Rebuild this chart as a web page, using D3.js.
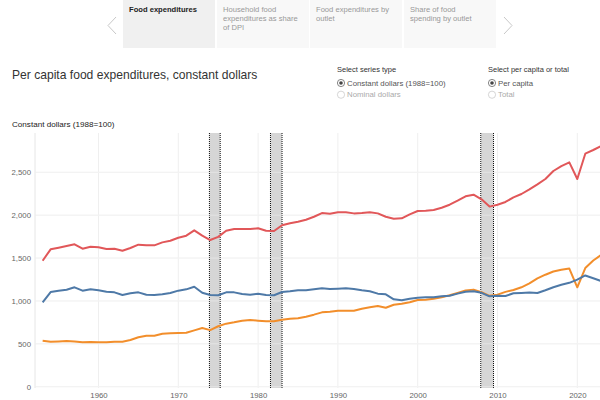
<!DOCTYPE html>
<html>
<head>
<meta charset="utf-8">
<script src="https://cdn.jsdelivr.net/npm/d3@7"></script>
<style>
html,body{margin:0;padding:0;background:#fff;}
svg{display:block;font-family:"Liberation Sans",Arial,sans-serif;}
</style>
</head>
<body>
<svg id="chart" width="600" height="400"></svg>
<script>
const years = d3.range(1953, 2024);
const totalValues = [1469,1602,1621,1641,1660,1609,1632,1625,1606,1609,1586,1617,1656,1648,1648,1683,1702,1737,1761,1823,1761,1710,1747,1819,1839,1839,1839,1847,1819,1815,1882,1905,1924,1947,1982,2025,2017,2033,2033,2021,2025,2033,2021,1982,1959,1963,2010,2049,2052,2060,2087,2122,2169,2220,2239,2185,2100,2122,2154,2208,2247,2301,2360,2422,2515,2573,2616,2422,2717,2760,2807];
const homeValues = [984,1104,1120,1131,1159,1120,1135,1124,1108,1100,1069,1089,1100,1073,1069,1077,1093,1120,1135,1166,1096,1070,1066,1100,1100,1081,1073,1085,1069,1066,1104,1112,1124,1124,1135,1147,1139,1143,1147,1139,1124,1112,1085,1077,1019,1007,1026,1038,1042,1042,1054,1061,1085,1108,1112,1095,1054,1060,1058,1089,1094,1098,1092,1124,1160,1188,1211,1248,1297,1265,1232];
const awayValues = [536,525,528,532,528,517,521,517,517,525,525,544,576,595,595,618,622,626,629,657,684,660,705,735,751,770,778,770,762,762,781,793,797,816,840,867,875,886,886,886,910,926,941,921,956,968,984,1011,1015,1026,1042,1066,1093,1122,1132,1102,1060,1073,1106,1128,1159,1205,1263,1306,1343,1364,1378,1159,1384,1471,1536];
const recessions = [[1973.9, 1975.25], [1981.55, 1983.0], [2007.9, 2009.5]];
const yTicks = [0, 500, 1000, 1500, 2000, 2500];
const xTicks = [1960, 1970, 1980, 1990, 2000, 2010, 2020];
const tabLabels = [["Food expenditures"], ["Household food", "expenditures as share", "of DPI"], ["Food expenditures by", "outlet"], ["Share of food", "spending by outlet"]];

const svg = d3.select("#chart");

// Tabs
const tabX = [123, 217, 310, 404];
const tabW = 92;
tabLabels.forEach((lines, i) => {
  svg.append("rect").attr("x", tabX[i]).attr("y", 0).attr("width", tabW).attr("height", 48)
    .attr("fill", i === 0 ? "#f0f0f0" : "#f8f8f8");
  const t = svg.append("text").attr("x", tabX[i] + 6).attr("y", 12)
    .attr("font-size", 7.6).attr("fill", i === 0 ? "#222" : "#999")
    .attr("font-weight", i === 0 ? "bold" : "normal");
  lines.forEach((l, j) => t.append("tspan").attr("x", tabX[i] + 6).attr("dy", j === 0 ? 0 : 9).text(l));
});
svg.append("path").attr("d", "M116,17 L108,25.5 L116,34").attr("fill", "none").attr("stroke", "#c8c8c8").attr("stroke-width", 1);
svg.append("path").attr("d", "M504,17 L512,25.5 L504,34").attr("fill", "none").attr("stroke", "#c8c8c8").attr("stroke-width", 1);

// Title
svg.append("text").attr("x", 12).attr("y", 78.5).attr("font-size", 12.1).attr("fill", "#333")
  .text("Per capita food expenditures, constant dollars");

// Controls
function radioGroup(x, title, opts) {
  svg.append("text").attr("x", x).attr("y", 71.5).attr("font-size", 7.5).attr("fill", "#333").text(title);
  opts.forEach((o, i) => {
    const cy = 83 + i * 11.7;
    svg.append("circle").attr("cx", x + 4).attr("cy", cy).attr("r", 3.6)
      .attr("fill", "#fff").attr("stroke", i === 0 ? "#666" : "#ccc").attr("stroke-width", 0.8);
    if (i === 0) svg.append("circle").attr("cx", x + 4).attr("cy", cy).attr("r", 1.8).attr("fill", "#444");
    svg.append("text").attr("x", x + 10).attr("y", cy + 2.7).attr("font-size", 7.8)
      .attr("fill", i === 0 ? "#555" : "#aaa").text(o);
  });
}
radioGroup(337, "Select series type", ["Constant dollars (1988=100)", "Nominal dollars"]);
radioGroup(488, "Select per capita or total", ["Per capita", "Total"]);

// Axis title
svg.append("text").attr("x", 12).attr("y", 126.5).attr("font-size", 8.1).attr("fill", "#222")
  .text("Constant dollars (1988=100)");

// Scales
const x = d3.scaleLinear().domain([1960, 2020]).range([98.5, 577.3]);
const y = d3.scaleLinear().domain([0, 2500]).range([386.7, 172.3]);
const plotTop = 133, plotBottom = 388, plotLeft = 35, plotRight = 600;

// Grid
svg.append("g").selectAll("line").data(yTicks).join("line")
  .attr("x1", plotLeft).attr("x2", plotRight).attr("y1", d => y(d)).attr("y2", d => y(d))
  .attr("stroke", "#ebebeb").attr("stroke-width", 1);
svg.append("g").selectAll("line").data(xTicks).join("line")
  .attr("x1", d => x(d)).attr("x2", d => x(d)).attr("y1", plotTop).attr("y2", plotBottom)
  .attr("stroke", "#efefef").attr("stroke-width", 1);
svg.append("line").attr("x1", plotLeft).attr("x2", plotLeft).attr("y1", plotTop).attr("y2", plotBottom)
  .attr("stroke", "#e6e6e6");

// Axes
const yAxis = d3.axisLeft(y).tickValues(yTicks).tickFormat(d3.format(",")).tickSize(0).tickPadding(4);
const yg = svg.append("g").attr("transform", `translate(${plotLeft},0)`).call(yAxis);
yg.select(".domain").remove();
yg.selectAll("text").attr("font-size", 7.8).attr("fill", "#666").attr("font-family", "Liberation Sans, Arial, sans-serif");

const xAxis = d3.axisBottom(x).tickValues(xTicks).tickFormat(d3.format("d")).tickSize(0).tickPadding(4);
const xg = svg.append("g").attr("transform", `translate(0,${plotBottom})`).call(xAxis);
xg.select(".domain").remove();
xg.selectAll("text").attr("font-size", 7.8).attr("fill", "#666").attr("font-family", "Liberation Sans, Arial, sans-serif");

// Recession bands
const rg = svg.append("g");
recessions.forEach(([a, b]) => {
  rg.append("rect").attr("x", x(a)).attr("y", plotTop).attr("width", x(b) - x(a)).attr("height", plotBottom - plotTop)
    .attr("fill", "#d6d6d6");
  [a, b].forEach(v => rg.append("line").attr("x1", x(v)).attr("x2", x(v)).attr("y1", plotTop).attr("y2", plotBottom)
    .attr("stroke", "#111").attr("stroke-width", 1).attr("stroke-dasharray", "1,1"));
});
// grid visible through bands
svg.append("g").selectAll("line").data(yTicks).join("line")
  .attr("x1", plotLeft).attr("x2", plotRight).attr("y1", d => y(d)).attr("y2", d => y(d))
  .attr("stroke", "#fff").attr("stroke-opacity", 0.35).attr("stroke-width", 1);

// Lines
const series = [
  {values: awayValues, color: "#f28e2b"},
  {values: homeValues, color: "#4e79a7"},
  {values: totalValues, color: "#e15759"}
];
const line = d3.line().x((d, i) => x(years[i])).y(d => y(d));
series.forEach(s => {
  svg.append("path").datum(s.values).attr("d", line).attr("fill", "none")
    .attr("stroke", s.color).attr("stroke-width", 2).attr("stroke-linejoin", "round");
});
</script>
</body>
</html>
